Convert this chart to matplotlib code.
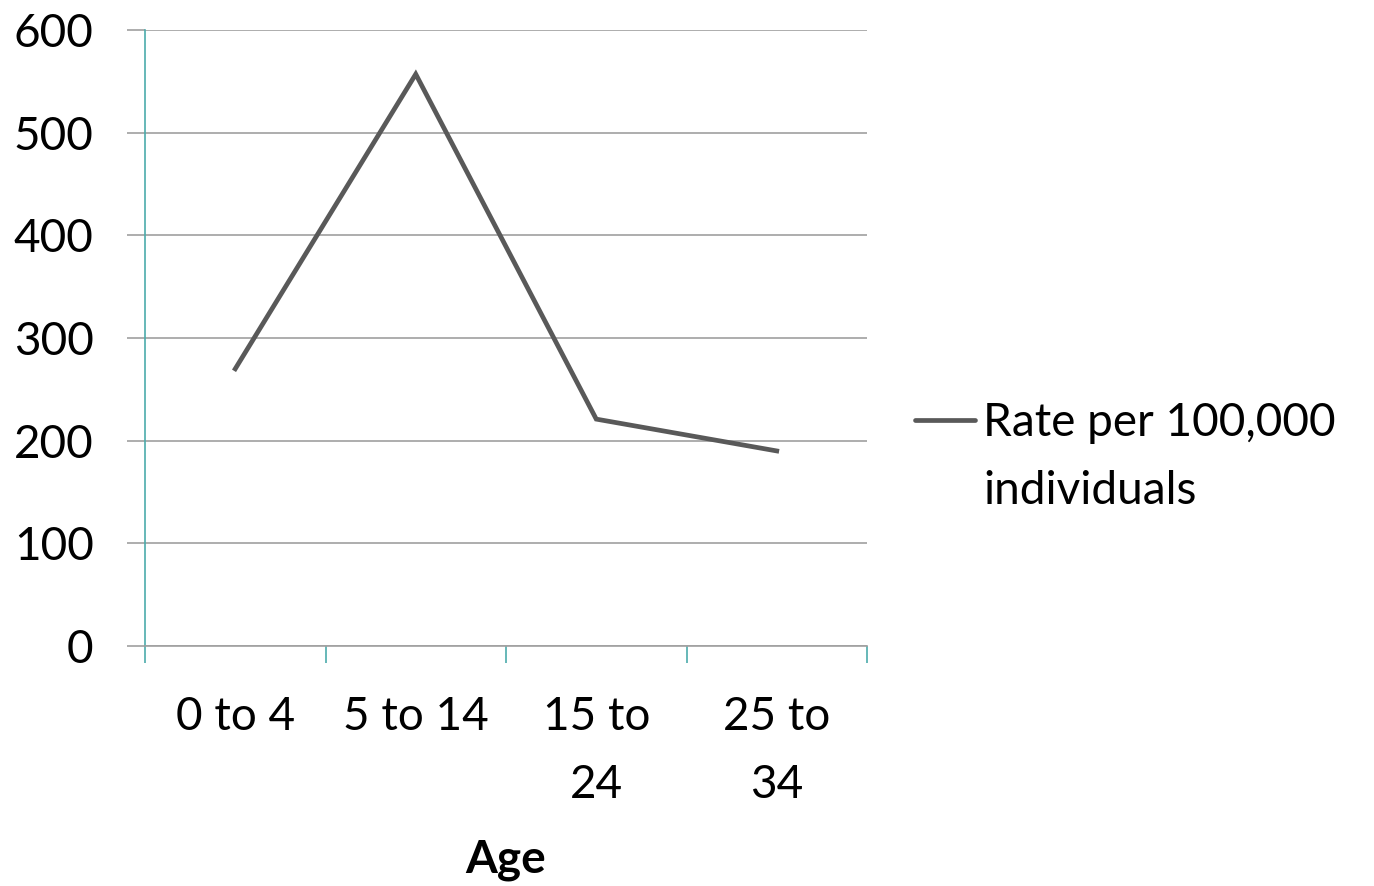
import matplotlib
matplotlib.use("Agg")
import matplotlib.pyplot as plt
from matplotlib.lines import Line2D

categories = ["0 to 4", "5 to 14", "15 to\n24", "25 to\n34"]
rates = [270, 557, 221, 190]
series_label = "Rate per 100,000\nindividuals"
y_ticks = [0, 100, 200, 300, 400, 500, 600]

plt.rcParams['font.family'] = ['Lato', 'DejaVu Sans']

W, H = 1374, 886
fig = plt.figure(figsize=(W/100, H/100), dpi=100)
ax = fig.add_axes([145/W, 1-646/H, (867-145)/W, (646-30)/H])

teal = "#4BACAC"
grid = "#a0a0a0"
linec = "#595959"
fs = 33

x = list(range(len(categories)))
ax.plot(x, rates, color=linec, lw=3.4, solid_joinstyle='miter', label=series_label)

ax.set_xlim(-0.5, len(categories)-0.5)
ax.set_ylim(0, 600)
ax.set_yticks(y_ticks)
ax.yaxis.grid(True, color=grid, lw=1.2)
ax.set_axisbelow(True)
for s in ["top", "right"]:
    ax.spines[s].set_visible(False)
ax.spines["left"].set_color(teal)
ax.spines["left"].set_linewidth(1.2)
ax.spines["bottom"].set_color(grid)
ax.spines["bottom"].set_linewidth(1.2)

ax.tick_params(axis='y', length=13, width=1.2, color=grid, pad=24, labelsize=fs)
ax.set_xticks([i - 0.5 for i in range(len(categories)+1)], minor=False)
ax.set_xticklabels([])
ax.tick_params(axis='x', which='major', length=12, width=1.2, color=teal)
ax.set_xticks(x, minor=True)
ax.set_xticklabels(categories, minor=True, fontsize=fs, linespacing=1.75, va='top')
ax.tick_params(axis='x', which='minor', length=0, pad=36)

ax.set_xlabel("Age", fontsize=fs, fontweight='bold', labelpad=24)

# legend (handle aligned with the first text line, as in the reference)
fig.add_artist(Line2D([915/W, 975/W], [1-420/H, 1-420/H], color=linec, lw=3.4,
                      solid_capstyle='round'))
fig.text(983/W, 1-402/H, series_label, fontsize=fs, va='top', ha='left',
         linespacing=1.75, transform=fig.transFigure)

fig.savefig("out.png", dpi=100)
